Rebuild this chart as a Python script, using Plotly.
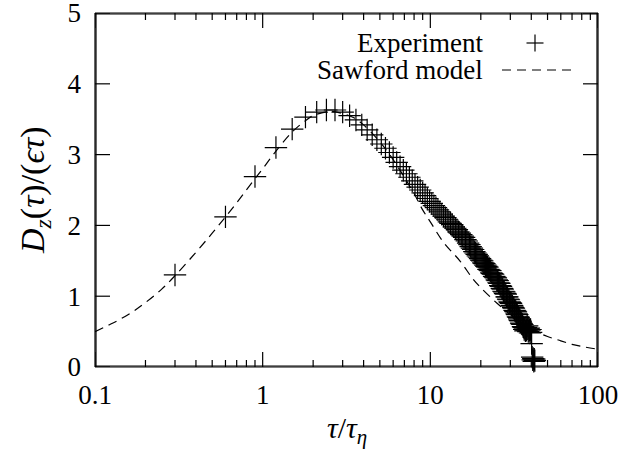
import plotly.graph_objects as go

# ---------------- data ----------------
tau_exp = [round(0.3 * k, 1) for k in range(1, 141)]
D_exp = [
    1.30, 2.12, 2.69, 3.10, 3.36, 3.53, 3.60, 3.63, 3.63, 3.60,
    3.55, 3.49, 3.42, 3.35, 3.28, 3.21, 3.15, 3.09, 3.03, 2.96,
    2.89, 2.83, 2.78, 2.73, 2.68, 2.63, 2.58, 2.54, 2.50, 2.46,
    2.42, 2.38, 2.34, 2.31, 2.28, 2.25, 2.22, 2.19, 2.16, 2.13,
    2.11, 2.08, 2.05, 2.03, 2.01, 1.98, 1.96, 1.94, 1.91, 1.89,
    1.87, 1.85, 1.83, 1.80, 1.78, 1.75, 1.73, 1.70, 1.68, 1.66,
    1.63, 1.61, 1.59, 1.57, 1.55, 1.53, 1.51, 1.50, 1.47, 1.46,
    1.44, 1.42, 1.41, 1.38, 1.37, 1.36, 1.33, 1.32, 1.31, 1.28,
    1.27, 1.26, 1.23, 1.22, 1.19, 1.18, 1.15, 1.14, 1.11, 1.10,
    1.07, 1.06, 1.04, 1.03, 0.99, 0.99, 0.96, 0.95, 0.92, 0.91,
    0.90, 0.87, 0.86, 0.84, 0.83, 0.80, 0.79, 0.78, 0.75, 0.74,
    0.71, 0.70, 0.68, 0.66, 0.65, 0.62, 0.61, 0.60, 0.57, 0.56,
    0.53, 0.55, 0.51, 0.56, 0.52, 0.58, 0.54, 0.50, 0.55, 0.52,
    0.48, 0.53, 0.49, 0.33, 0.14, 0.10, 0.12, 0.08, 0.11, 0.09,
]

tau_model = [0.1, 0.12, 0.14, 0.17, 0.2, 0.25, 0.3, 0.4, 0.5, 0.6, 0.7, 0.8,
             0.9, 1.0, 1.2, 1.5, 1.8, 2.0, 2.5, 3.0, 3.5, 4.0, 5.0, 6.0,
             7.0, 8.0, 9.0, 10, 12, 15, 18, 20, 25, 30, 35, 40, 50, 60,
             70, 80, 100]
D_model = [0.50, 0.59, 0.67, 0.79, 0.91, 1.10, 1.29, 1.62, 1.89, 2.12, 2.32, 2.50,
           2.66, 2.80, 3.05, 3.32, 3.48, 3.55, 3.61, 3.58, 3.52, 3.42, 3.18, 2.93,
           2.68, 2.45, 2.22, 2.05, 1.76, 1.50, 1.24, 1.12, 0.90, 0.74, 0.62, 0.53,
           0.43, 0.37, 0.32, 0.29, 0.25]

x_tickvals = [0.1, 1, 10, 100]
x_ticktext = ["0.1", "1", "10", "100"]
x_minor = [0.2, 0.3, 0.4, 0.5, 0.6, 0.7, 0.8, 0.9,
           2, 3, 4, 5, 6, 7, 8, 9,
           20, 30, 40, 50, 60, 70, 80, 90]
y_tickvals = [0, 1, 2, 3, 4, 5]
legend_labels = ["Experiment", "Sawford model"]

# ---------------- figure ----------------
W, H = 620, 450
L, R, T, B = 95, 22, 13, 83
FONT = "Liberation Serif"
FS = 27
MAJ, MIN = 15, 7

fig = go.Figure()
fig.add_trace(go.Scatter(
    x=tau_model, y=D_model, mode="lines", line_shape="spline",
    line=dict(color="black", width=1.2, dash="9px,6px"),
    name=legend_labels[1], showlegend=False))
fig.add_trace(go.Scatter(
    x=tau_exp, y=D_exp, mode="markers",
    marker=dict(symbol="cross-thin-open", size=16, color="black",
                line=dict(color="black", width=1.2)),
    name=legend_labels[0], showlegend=False, cliponaxis=False))

pw = W - L - R
ph = H - T - B


def px_x(p):
    return (p - L) / pw


def px_y(p):
    return (H - B - p) / ph


frame_line = dict(color="black", width=1.2)
tick_line = dict(color="black", width=1.2)
shapes = []
# frame: four sides
for (x0, x1, y0, y1) in [(0, 1, 0, 0), (0, 1, 1, 1), (0, 0, 0, 1), (1, 1, 0, 1)]:
    shapes.append(dict(type="line", xref="paper", yref="paper",
                       x0=x0, x1=x1, y0=y0, y1=y1, line=frame_line))
# second pass of the frame, 1px inside, for a heavier border
for (x0, x1, y0, y1) in [(0, 1, 0, 0), (0, 1, 1, 1), (0, 0, 0, 1), (1, 1, 0, 1)]:
    shapes.append(dict(type="line", xref="paper", yref="paper",
                       x0=x0 + (1 / pw if x0 == x1 == 0 else (-1 / pw if x0 == x1 == 1 else 0)),
                       x1=x1 + (1 / pw if x0 == x1 == 0 else (-1 / pw if x0 == x1 == 1 else 0)),
                       y0=y0 + (1 / ph if y0 == y1 == 0 else (-1 / ph if y0 == y1 == 1 else 0)),
                       y1=y1 + (1 / ph if y0 == y1 == 0 else (-1 / ph if y0 == y1 == 1 else 0)),
                       line=frame_line))
# x ticks (bottom and top), positioned by the x axis scale
for v, ln in [(v, MAJ) for v in x_tickvals] + [(v, MIN) for v in x_minor]:
    shapes.append(dict(type="line", xref="x", yref="paper", x0=v, x1=v,
                       ysizemode="pixel", yanchor=0, y0=0, y1=ln, line=tick_line))
    shapes.append(dict(type="line", xref="x", yref="paper", x0=v, x1=v,
                       ysizemode="pixel", yanchor=1, y0=0, y1=-ln, line=tick_line))
# y ticks (left and right), positioned by the y axis scale
for v in y_tickvals:
    shapes.append(dict(type="line", yref="y", xref="paper", y0=v, y1=v,
                       xsizemode="pixel", xanchor=0, x0=0, x1=MAJ, line=tick_line))
    shapes.append(dict(type="line", yref="y", xref="paper", y0=v, y1=v,
                       xsizemode="pixel", xanchor=1, x0=0, x1=-MAJ, line=tick_line))
# legend key: plus marker
kx, ky, ks = 535, 43, 8.5
shapes.append(dict(type="line", xref="paper", yref="paper",
                   x0=px_x(kx - ks), x1=px_x(kx + ks), y0=px_y(ky), y1=px_y(ky),
                   line=dict(color="black", width=1.2)))
shapes.append(dict(type="line", xref="paper", yref="paper",
                   x0=px_x(kx), x1=px_x(kx), y0=px_y(ky - ks), y1=px_y(ky + ks),
                   line=dict(color="black", width=1.2)))
# legend key: dashed line
shapes.append(dict(type="line", xref="paper", yref="paper",
                   x0=px_x(502), x1=px_x(572), y0=px_y(70), y1=px_y(70),
                   line=dict(color="black", width=1.2, dash="9px,6px")))

annotations = [
    dict(text=legend_labels[0], xref="paper", yref="paper", x=px_x(485), y=px_y(43),
         xanchor="right", yanchor="middle", showarrow=False,
         font=dict(family=FONT, size=FS, color="black")),
    dict(text=legend_labels[1], xref="paper", yref="paper", x=px_x(485), y=px_y(70),
         xanchor="right", yanchor="middle", showarrow=False,
         font=dict(family=FONT, size=FS, color="black")),
    dict(text="<i>τ</i>/<i>τ</i><sub><i>η</i></sub>", xref="paper", yref="paper",
         x=0.5, y=px_y(430), xanchor="center", yanchor="middle", showarrow=False,
         font=dict(family=FONT, size=30, color="black")),
    dict(text="<i>D</i><sub><i>z</i></sub>(<i>τ</i>)/(<i>ϵτ</i>)", xref="paper", yref="paper",
         x=px_x(35), y=0.5, xanchor="center", yanchor="middle", showarrow=False,
         textangle=-90, font=dict(family=FONT, size=34, color="black")),
]

axis_common = dict(ticks="", showgrid=False, zeroline=False, showline=False,
                   automargin=False, ticklabeloverflow="allow")

fig.update_layout(
    template="none",
    width=W, height=H,
    margin=dict(l=L, r=R, t=T, b=B, pad=0),
    paper_bgcolor="white", plot_bgcolor="white",
    font=dict(family=FONT, size=FS, color="black"),
    showlegend=False,
    shapes=shapes, annotations=annotations,
    xaxis=dict(type="log", range=[-1, 2], tickmode="array",
               tickvals=x_tickvals, ticktext=x_ticktext,
               ticklabelstandoff=9,
               tickfont=dict(family=FONT, size=FS, color="black"), **axis_common),
    yaxis=dict(range=[0, 5.0005], tickmode="array", tickvals=y_tickvals,
               ticktext=[str(v) for v in y_tickvals],
               ticklabelstandoff=13,
               tickfont=dict(family=FONT, size=FS, color="black"), **axis_common),
)

fig.write_html("out.html", config={"displayModeBar": False},
               post_script="document.body.style.margin='0px';")
